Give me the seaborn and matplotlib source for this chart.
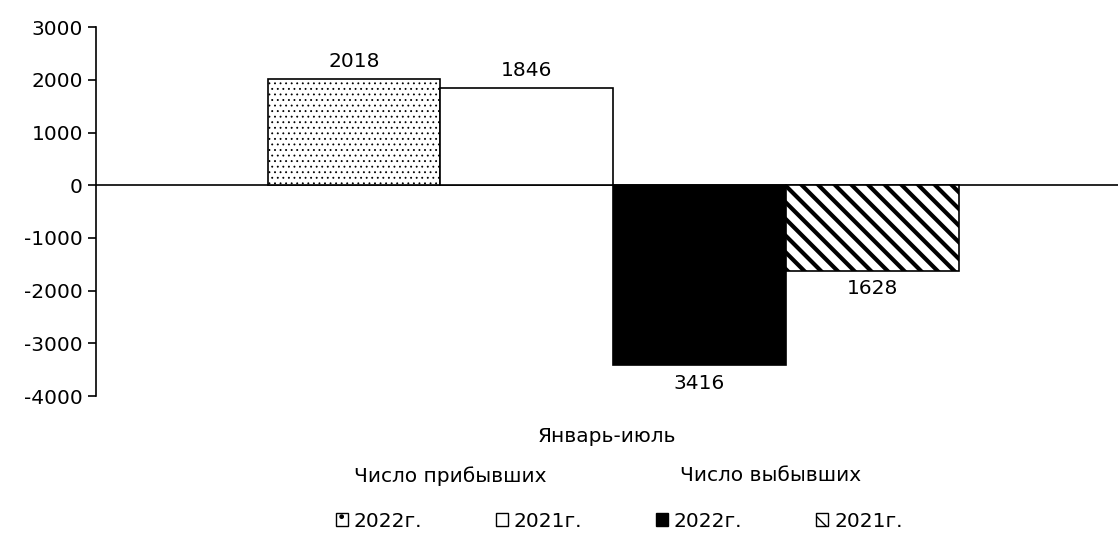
import matplotlib
matplotlib.use("Agg")
import matplotlib.pyplot as plt
import seaborn as sns
import pandas as pd
from matplotlib.patches import Patch

period = "Январь-июль"
series = ["arr_2022", "arr_2021", "dep_2022", "dep_2021"]
year_labels = ["2022г.", "2021г.", "2022г.", "2021г."]
group_titles = ["Число прибывших", "Число выбывших"]
values = [2018, 1846, -3416, -1628]

face_colors = ["white", "white", "black", "white"]
hatches = ["...", "", "", "\\\\"]

df = pd.DataFrame({"period": [period] * len(series), "series": series, "value": values})

sns.set_theme(style="white")
plt.rcParams["font.family"] = ["DejaVu Sans"]
plt.rcParams["axes.unicode_minus"] = False
plt.rcParams["text.color"] = "black"
plt.rcParams["hatch.linewidth"] = 1.0
FS = 14.5

fig = plt.figure(figsize=(11.18, 5.33), dpi=100)
ax = fig.add_axes([0.0859, 0.257, 0.9141, 0.692])

sns.barplot(data=df, x="period", y="value", hue="series", hue_order=series,
            palette=dict(zip(series, face_colors)), width=0.676,
            edgecolor="black", linewidth=1.2, legend=False, ax=ax)

for patch, h, s in zip(ax.patches, hatches, series):
    if h:
        patch.set_hatch(h)
        if s == "dep_2021" and hasattr(patch, "set_hatch_linewidth"):
            patch.set_hatch_linewidth(3.0)
        if s == "arr_2022" and hasattr(patch, "set_hatch_linewidth"):
            patch.set_hatch_linewidth(0.6)

for cont, v in zip(ax.containers, values):
    ax.bar_label(cont, labels=[f"{abs(v)}"], padding=6, fontsize=FS, color="black")

ax.axhline(0, color="black", lw=1.2, zorder=0)
ax.set_xlim(-0.506, 0.494)
ax.set_ylim(-4000, 3000)
ax.set_yticks(range(-4000, 3001, 1000))
ax.set_xticks([])
ax.set_ylabel("")
ax.set_xlabel(period, fontsize=FS, labelpad=22, color="black")
ax.tick_params(axis="y", labelsize=FS, direction="out", length=6, width=1.2,
               left=True, colors="black", labelcolor="black")
for side in ["top", "right", "bottom"]:
    ax.spines[side].set_visible(False)
ax.spines["left"].set_color("black")
ax.spines["left"].set_linewidth(1.2)

# group headers and legend
fig.text(0.4025, 0.107, group_titles[0], fontsize=FS, ha="center", va="center")
fig.text(0.689, 0.107, group_titles[1], fontsize=FS, ha="center", va="center")

legend_hatches = [".", "", "", "\\"]
handles = []
for fc, h in zip(face_colors, legend_hatches):
    handles.append(Patch(facecolor=fc, edgecolor="black", hatch=h, linewidth=1.0))
leg = fig.legend(handles, year_labels, ncol=4, loc="center",
                 bbox_to_anchor=(0.5537, 0.0225), frameon=False, fontsize=FS,
                 handlelength=0.6, handleheight=0.6, handletextpad=0.3,
                 columnspacing=3.65)

fig.savefig("out.png", dpi=100)
